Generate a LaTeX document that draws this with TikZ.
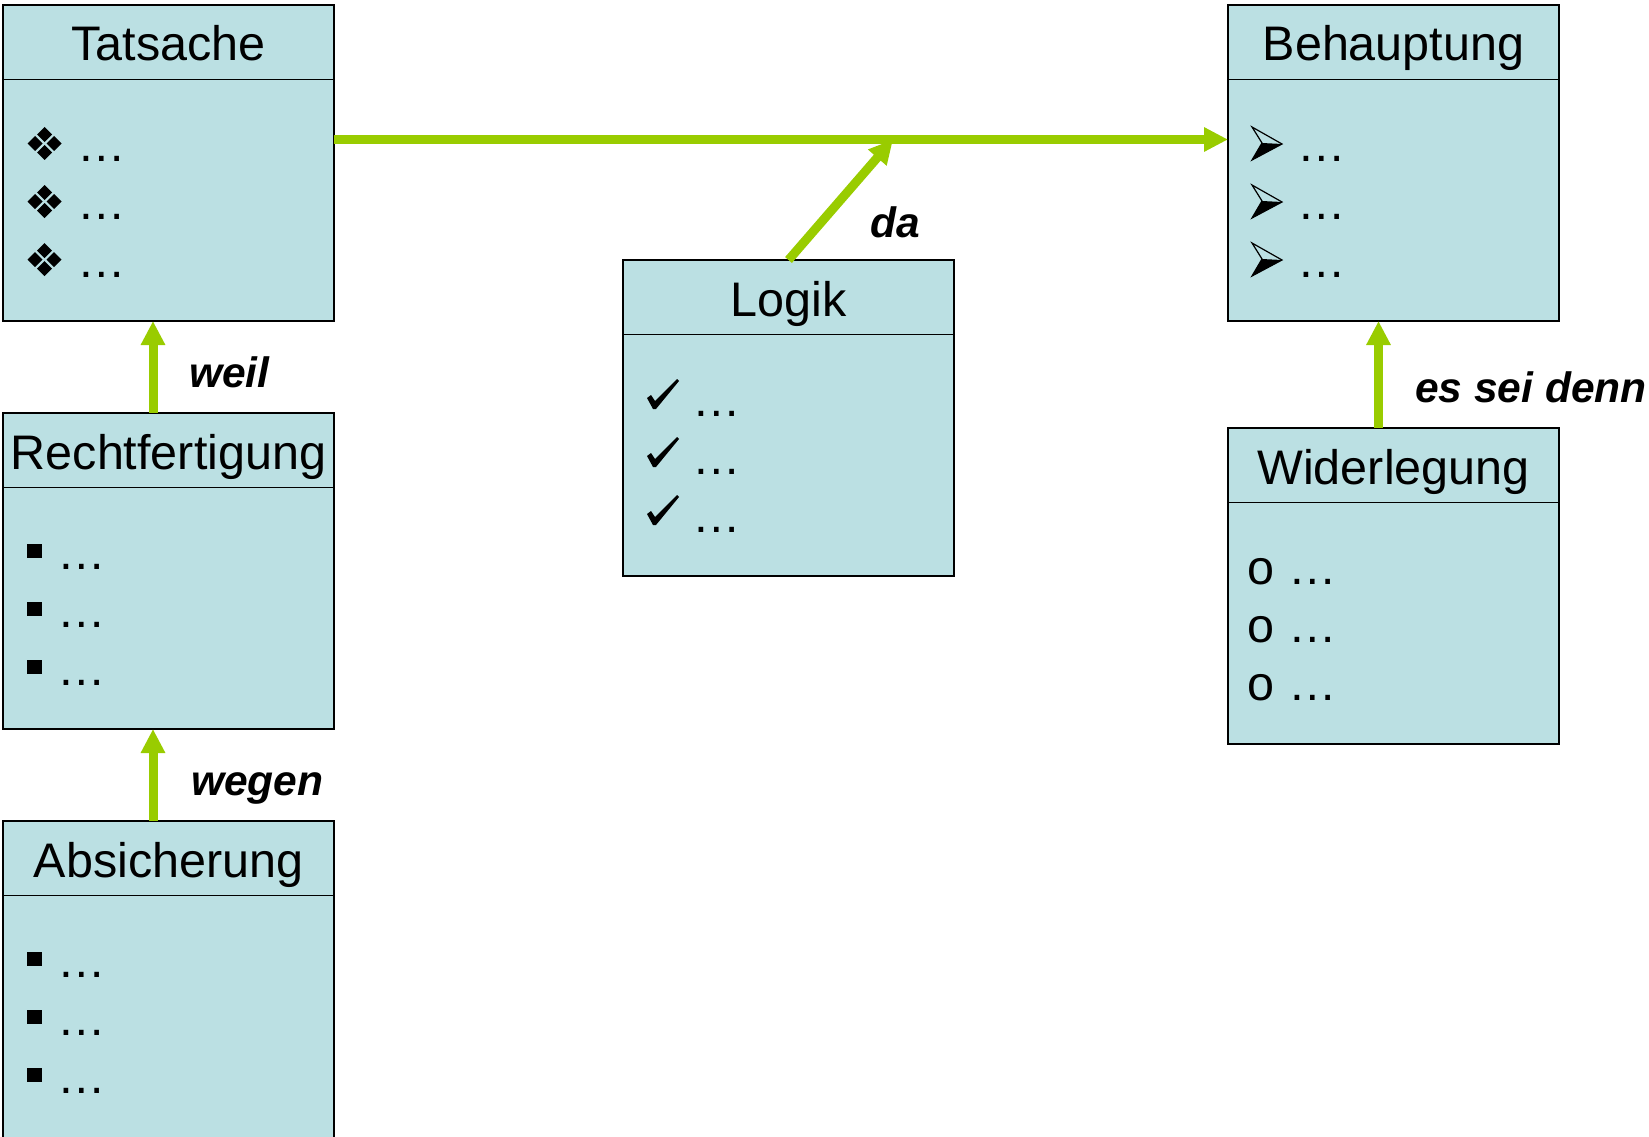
\documentclass[tikz,border=0pt]{standalone}
\usepackage{fontspec}
\setmainfont{Liberation Sans}
\usetikzlibrary{arrows.meta}
\definecolor{boxfill}{RGB}{187,224,227}
\definecolor{lgreen}{RGB}{153,204,0}
\tikzset{
  umlbox/.style={draw=black, fill=boxfill, line width=1.8pt, minimum width=331pt, minimum height=316pt, inner sep=0pt, outer sep=0pt, anchor=north west},
  divider/.style={draw=black, line width=1.8pt},
  titletext/.style={anchor=base, inner sep=0pt, font=\fontsize{48.5}{58}\selectfont},
  itemtext/.style={anchor=base west, inner sep=0pt, font=\fontsize{48.5}{58}\selectfont},
  lbl/.style={anchor=base west, inner sep=0pt, font=\fontsize{42.5}{50}\selectfont\bfseries\itshape},
  conn/.style={draw=lgreen, line width=9pt, -{Triangle[length=24pt,width=23pt]}},
}
\newcommand\umlbox[5][]{%
  \node[umlbox,#1] (#2) at (#3,#4) {};
  \draw[divider] ([yshift=-74.5pt]#2.north west) -- ([yshift=-74.5pt]#2.north east);
  \node[titletext] (#2-title) at ([yshift=-56pt]#2.north) {#5};
}
\newcommand\bDia[1]{\begin{scope}[shift={(#1)}]
  \foreach \dx/\dy in {0/-9, -9.5/0, 9.5/0, 0/9}{
    \fill ({41.5+\dx},{-17.5+\dy-7.5}) -- ++(7.5,7.5) -- ++(-7.5,7.5) -- ++(-7.5,-7.5) -- cycle;}
\end{scope}}
\newcommand\bArr[1]{\begin{scope}[shift={(#1)}]
  \fill (34,-18) -- (54,-17) -- (24,-1) -- cycle;
  \draw[line width=1.2pt, line join=miter] (24,-34) -- (54,-17) -- (24,-1) -- (34,-18) -- cycle;
\end{scope}}
\newcommand\bChk[1]{\begin{scope}[shift={(#1)}]
  \fill (24,-18) -- (28,-21) -- (32,-15) -- (54,-37) -- (56,-35) -- (33,-7) -- (30,-7) -- cycle;
\end{scope}}
\newcommand\bSq[1]{\begin{scope}[shift={(#1)}]
  \fill (24,-25) rectangle (38.5,-11);
\end{scope}}
\newcommand\bNone[1]{}
\newcommand\itemrows[4]{%
  \foreach \i in {1,2,3}{
    \coordinate (#1-b\i) at ([shift={(0,{156+58*(\i-1)})}]#1.north west);
    #2{#1-b\i}
    \node[itemtext] (#1-i\i) at ([shift={(#3,0)}]#1-b\i) {#4};
  }
}
\begin{document}
\begin{tikzpicture}[x=1pt, y=-1pt]
\useasboundingbox (0,0) rectangle (1649,1137);
\clip (0,0) rectangle (1649,1137);
% boxes
\umlbox{tats}{3}{5}{Tatsache}
\umlbox{beh}{1228}{5}{Behauptung}
\umlbox{logik}{623}{260}{Logik}
\umlbox{rech}{3}{413}{Rechtfertigung}
\umlbox{wid}{1228}{428}{Widerlegung}
\umlbox[minimum height=330pt]{abs}{3}{821}{Absicherung}
% items
\itemrows{tats}{\bDia}{74.4}{…}
\itemrows{beh}{\bArr}{69.4}{…}
\itemrows{logik}{\bChk}{69.4}{…}
\itemrows{rech}{\bSq}{54.4}{…}
\itemrows{abs}{\bSq}{54.4}{…}
\itemrows{wid}{\bNone}{19.5}{o …}
% connectors
\coordinate (meet) at (893,139.5);
\draw[conn] ([yshift=23.5pt]tats.east) -- ([yshift=23.5pt]beh.west);
\draw[conn] (logik.north) -- (meet);
\draw[conn] ([xshift=-15.5pt]rech.north) -- ([xshift=-15.5pt]tats.south);
\draw[conn] ([xshift=-15.5pt,yshift=0pt]abs.north) -- ([xshift=-15.5pt]rech.south);
\draw[conn] ([xshift=-15pt]wid.north) -- ([xshift=-15pt]beh.south);
% labels
\node[lbl] (l-weil) at (189,387) {weil};
\node[lbl] (l-wegen) at (191,795) {wegen};
\node[lbl] (l-da) at (870,237) {da};
\node[lbl] (l-esd) at (1415,402) {es sei denn};
\end{tikzpicture}
\end{document}
